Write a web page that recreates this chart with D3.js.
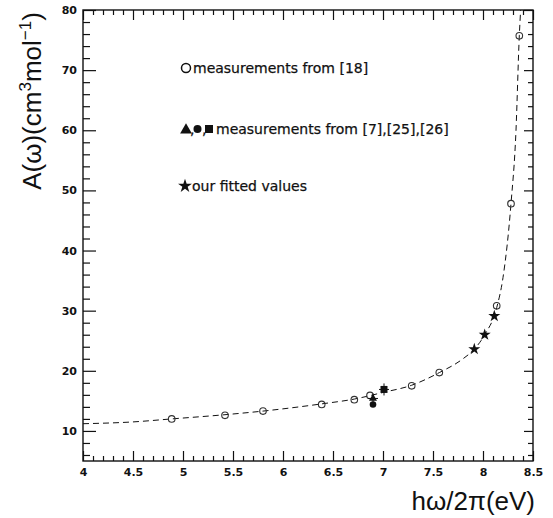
<!DOCTYPE html>
<html>
<head>
<meta charset="utf-8">
<script src="https://cdn.jsdelivr.net/npm/d3@7/dist/d3.min.js"></script>
<style>
  html, body { margin: 0; padding: 0; background: #fff; }
  svg { display: block; }
  .tick-label { font-family: "DejaVu Sans", sans-serif; font-size: 11px; font-weight: bold; fill: #111; }
  .legend-text { font-family: "DejaVu Sans", sans-serif; font-size: 14px; fill: #111; stroke: #111; stroke-width: 0.25px; }
  .axis-title { font-family: "Liberation Sans", Arial, sans-serif; font-size: 26px; fill: #111; }
</style>
</head>
<body>
<svg id="chart" width="553" height="518"></svg>
<script>
// Photon energy hω/2π (eV) and A(ω) (cm^3 mol^-1)

// open circles: measurements from [18]
const refX = [4.887, 5.42, 5.80, 6.387, 6.713, 6.87, 7.287, 7.563, 8.137, 8.28, 8.363];
const refY = [12.0, 12.6, 13.3, 14.4, 15.2, 15.9, 17.5, 19.7, 30.8, 47.8, 75.7];

// filled markers: measurements from [7], [25], [26]
const triX = [6.90];
const triY = [15.4];
const triErr = [0.8];
const dotX = [6.90];
const dotY = [14.4];
const sqX = [7.01];
const sqY = [16.9];
const sqErr = [1.0];

// stars: fitted values
const fitX = [7.913, 8.017, 8.113];
const fitY = [23.6, 26.0, 29.1];

// dashed dispersion curve
const curveX = [4.0, 4.5, 4.887, 5.42, 5.80, 6.387, 6.713, 7.0, 7.287, 7.563, 7.80, 7.913, 8.017, 8.137, 8.20, 8.28, 8.33, 8.363, 8.38];
const curveY = [11.2, 11.5, 12.0, 12.7, 13.3, 14.5, 15.3, 16.4, 17.6, 19.7, 22.0, 23.6, 26.0, 30.5, 35.5, 47.8, 60.0, 75.7, 81.0];

// axis ticks
const xMajor = [4, 4.5, 5, 5.5, 6, 6.5, 7, 7.5, 8, 8.5];
const xMajorLabels = ["4", "4.5", "5", "5.5", "6", "6.5", "7", "7.5", "8", "8.5"];
const yMajor = [10, 20, 30, 40, 50, 60, 70, 80];
const yMajorLabels = ["10", "20", "30", "40", "50", "60", "70", "80"];

const W = 553, H = 518;
const m = { left: 83, right: 20, top: 10, bottom: 57 };
const x = d3.scaleLinear().domain([4, 8.5]).range([m.left, W - m.right]);
const y = d3.scaleLinear().domain([5, 80]).range([H - m.bottom, m.top]);

const svg = d3.select("#chart");

svg.append("defs").append("clipPath").attr("id", "plot-clip")
  .append("rect")
  .attr("x", x(4)).attr("y", y(80))
  .attr("width", x(8.5) - x(4)).attr("height", y(5) - y(80));

// minor tick positions
const xMinor = d3.range(41, 85).map(d => d / 10).filter(v => !xMajor.some(t => Math.abs(t - v) < 1e-6));
const yMinor = d3.range(6, 80, 2).filter(v => v % 10 !== 0);

// axes (ticks pointing into the frame)
const ink = "#111";
const bottomAxis = d3.axisBottom(x).tickValues(xMajor).tickSize(-10).tickFormat((d, i) => xMajorLabels[i]).tickPadding(7);
const bottomMinor = d3.axisBottom(x).tickValues(xMinor).tickSize(-5).tickFormat("");
const topAxis = d3.axisTop(x).tickValues(xMajor).tickSize(-10).tickFormat("");
const topMinor = d3.axisTop(x).tickValues(xMinor).tickSize(-5).tickFormat("");
const leftAxis = d3.axisLeft(y).tickValues(yMajor).tickSize(-13).tickFormat((d, i) => yMajorLabels[i]).tickPadding(6);
const leftMinor = d3.axisLeft(y).tickValues(yMinor).tickSize(-7).tickFormat("");
const rightAxis = d3.axisRight(y).tickValues(yMajor).tickSize(-9).tickFormat("");
const rightMinor = d3.axisRight(y).tickValues(yMinor).tickSize(-5).tickFormat("");

function drawAxis(axis, tx, ty) {
  const g = svg.append("g").attr("transform", `translate(${tx},${ty})`).call(axis);
  g.select(".domain").remove();
  g.selectAll(".tick line").attr("stroke", ink).attr("stroke-width", 1.2);
  g.selectAll(".tick text").attr("class", "tick-label").attr("fill", ink);
  return g;
}
drawAxis(bottomAxis, 0, y(5));
drawAxis(bottomMinor, 0, y(5));
drawAxis(topAxis, 0, y(80));
drawAxis(topMinor, 0, y(80));
drawAxis(leftAxis, x(4), 0);
drawAxis(leftMinor, x(4), 0);
drawAxis(rightAxis, x(8.5), 0);
drawAxis(rightMinor, x(8.5), 0);

// frame
svg.append("rect")
  .attr("x", x(4)).attr("y", y(80))
  .attr("width", x(8.5) - x(4)).attr("height", y(5) - y(80))
  .attr("fill", "none").attr("stroke", ink).attr("stroke-width", 1.4);

// dashed curve
const line = d3.line().x(d => x(d[0])).y(d => y(d[1])).curve(d3.curveMonotoneX);
svg.append("path")
  .attr("clip-path", "url(#plot-clip)")
  .attr("d", line(d3.zip(curveX, curveY)))
  .attr("fill", "none").attr("stroke", ink).attr("stroke-width", 1)
  .attr("stroke-dasharray", "6,4");

const marks = svg.append("g");

// open circles
marks.selectAll("circle.ref").data(d3.zip(refX, refY)).join("circle")
  .attr("class", "ref")
  .attr("cx", d => x(d[0])).attr("cy", d => y(d[1])).attr("r", 3.3)
  .attr("fill", "none").attr("stroke", "#333").attr("stroke-width", 1.1);

// error bars
function errBar(px, py, err, halfW) {
  marks.append("line").attr("x1", x(px)).attr("x2", x(px))
    .attr("y1", y(py - err)).attr("y2", y(py + err))
    .attr("stroke", ink).attr("stroke-width", 1);
  marks.append("line").attr("x1", x(px) - halfW).attr("x2", x(px) + halfW)
    .attr("y1", y(py)).attr("y2", y(py))
    .attr("stroke", ink).attr("stroke-width", 1);
}
triX.forEach((v, i) => errBar(v, triY[i], triErr[i], 5));
sqX.forEach((v, i) => errBar(v, sqY[i], sqErr[i], 5));

const sym = (type, size) => d3.symbol().type(type).size(size)();
marks.selectAll("path.tri").data(d3.zip(triX, triY)).join("path")
  .attr("class", "tri")
  .attr("transform", d => `translate(${x(d[0])},${y(d[1])})`)
  .attr("d", sym(d3.symbolTriangle, 28)).attr("fill", ink);
marks.selectAll("circle.dot").data(d3.zip(dotX, dotY)).join("circle")
  .attr("class", "dot")
  .attr("cx", d => x(d[0])).attr("cy", d => y(d[1])).attr("r", 3.3).attr("fill", ink);
marks.selectAll("path.sq").data(d3.zip(sqX, sqY)).join("path")
  .attr("class", "sq")
  .attr("transform", d => `translate(${x(d[0])},${y(d[1])})`)
  .attr("d", sym(d3.symbolSquare, 49)).attr("fill", ink);
marks.selectAll("path.star").data(d3.zip(fitX, fitY)).join("path")
  .attr("class", "star")
  .attr("transform", d => `translate(${x(d[0])},${y(d[1])})`)
  .attr("d", sym(d3.symbolStar, 45)).attr("fill", ink);

// legend
const lg = svg.append("g");
lg.append("circle").attr("cx", 186).attr("cy", 68).attr("r", 4.5)
  .attr("fill", "none").attr("stroke", ink).attr("stroke-width", 1.5);
lg.append("text").attr("class", "legend-text").attr("x", 193).attr("y", 73).text("measurements from [18]");

lg.append("path").attr("transform", "translate(186,130)").attr("d", sym(d3.symbolTriangle, 60)).attr("fill", ink);
lg.append("text").attr("class", "legend-text").attr("x", 190).attr("y", 134).text(",");
lg.append("circle").attr("cx", 197.5).attr("cy", 129).attr("r", 4).attr("fill", ink);
lg.append("text").attr("class", "legend-text").attr("x", 202).attr("y", 134).text(",");
lg.append("path").attr("transform", "translate(209,129)").attr("d", sym(d3.symbolSquare, 64)).attr("fill", ink);
lg.append("text").attr("class", "legend-text").attr("x", 216).attr("y", 134).text("measurements from [7],[25],[26]");

lg.append("path").attr("transform", "translate(185,186)").attr("d", sym(d3.symbolStar, 60)).attr("fill", ink);
lg.append("text").attr("class", "legend-text").attr("x", 192).attr("y", 191).text("our fitted values");

// axis titles
const yt = svg.append("text").attr("class", "axis-title")
  .attr("transform", "translate(41,101) rotate(-90)")
  .attr("text-anchor", "middle");
yt.append("tspan").text("A(ω)(cm");
yt.append("tspan").attr("dy", -10).attr("font-size", 17).text("3");
yt.append("tspan").attr("dy", 10).text("mol");
yt.append("tspan").attr("dy", -10).attr("font-size", 17).text("−1");
yt.append("tspan").attr("dy", 10).text(")");

svg.append("text").attr("class", "axis-title")
  .attr("x", 535).attr("y", 510).attr("text-anchor", "end")
  .text("hω/2π(eV)");
</script>
</body>
</html>
